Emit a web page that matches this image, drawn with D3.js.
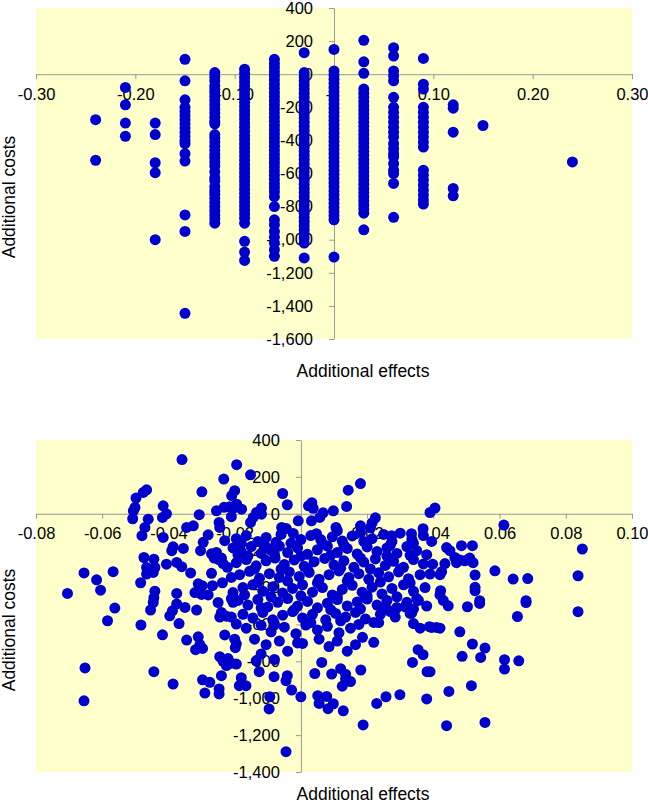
<!DOCTYPE html>
<html>
<head>
<meta charset="utf-8">
<script src="https://cdn.jsdelivr.net/npm/d3@7"></script>
<style>
    body { margin: 0; background: #ffffff; }
    svg { display: block; font-family: "Liberation Sans", Arial, sans-serif; }
</style>
</head>
<body>
<svg id="chart" width="648" height="805"></svg>
<script>
// ---- data: top panel (discrete effects, one column of costs per effect) ----
const topEffects = [-0.24, -0.21, -0.18, -0.15, -0.12, -0.09, -0.06, -0.03, 0, 0.03, 0.06, 0.09, 0.12, 0.15, 0.24];
const topCosts = [
    [-275, -520],
    [-80, -185, -295, -375],
    [-295, -365, -535, -595, -1000],
    [90, -40, -155, -200, -225, -250, -275, -300, -325, -350, -375, -400, -420, -480, -525, -850, -950, -1445],
    [10, -15, -40, -70, -90, -110, -135, -160, -185, -210, -235, -260, -285, -300, -365, -385, -410, -435, -460, -485, -505,
     -530, -555, -590, -625, -645, -680, -705, -725, -750, -775, -800, -825, -850, -875, -900],
    [30, 5, -20, -45, -70, -95, -120, -145, -170, -195, -220, -245, -270, -295, -320, -345, -370, -395, -420, -445, -470,
     -495, -520, -545, -570, -595, -620, -645, -670, -695, -720, -745, -770, -795, -820, -845, -870, -900, -1010, -1075, -1125],
    [90, 65, 40, 15, -10, -35, -60, -85, -110, -135, -160, -185, -210, -235, -260, -285, -310, -335, -360, -385, -410, -435,
     -460, -485, -510, -535, -560, -585, -610, -635, -660, -685, -710, -740, -800, -880, -910, -950, -985, -1020, -1060, -1100],
    [130, 10, -15, -40, -65, -90, -115, -140, -165, -190, -215, -240, -265, -290, -315, -340, -365, -390, -415, -440, -465,
     -490, -515, -540, -565, -590, -615, -640, -665, -690, -715, -740, -765, -790, -815, -840, -865, -890, -915, -940, -965,
     -990, -1020, -1110],
    [150, 20, -5, -30, -55, -80, -105, -130, -155, -180, -205, -230, -255, -280, -305, -330, -355, -380, -405, -430, -455,
     -480, -505, -530, -555, -580, -605, -630, -655, -680, -705, -730, -755, -780, -805, -830, -855, -880, -1105],
    [205, 75, 5, -90, -115, -140, -165, -190, -215, -240, -265, -290, -315, -340, -365, -390, -415, -440, -465, -490, -515,
     -540, -565, -590, -615, -640, -665, -690, -715, -740, -765, -790, -815, -840, -940],
    [160, 110, 20, -10, -40, -140, -200, -230, -260, -290, -320, -350, -380, -420, -450, -480, -500, -540, -580, -600, -660, -865],
    [95, -60, -90, -200, -230, -260, -290, -320, -350, -380, -410, -440, -580, -610, -640, -670, -700, -730, -760, -785],
    [-185, -205, -350, -690, -735],
    [-310],
    [-530]
];

// ---- data: bottom panel, [effect, cost] pairs ----
const bottomPoints = [
    [-0.0359, 294], [-0.0194, 266], [-0.0233, 188], [-0.0299, 119], [-0.0466, 130], [-0.0476, 116], [-0.0498, 85],
    [-0.0501, 34], [-0.0506, 16], [-0.0508, -27], [-0.0416, 43], [-0.0418, -20], [-0.0406, 0], [-0.0461, -29],
    [-0.0471, -74], [-0.048, -119], [-0.0307, -5], [-0.0345, -74], [-0.0325, -65], [-0.0416, -128], [-0.0255, 16],
    [-0.0232, 35], [-0.0215, 38], [-0.0200, 33], [-0.021, -16], [-0.0247, -47], [-0.0245, -74], [-0.028, -114],
    [-0.0295, -155], [-0.0303, -200], [-0.023, -146], [-0.0386, -179], [-0.039, -200], [-0.0355, -188], [-0.0474, -237],
    [-0.0444, -246], [-0.0441, -291], [-0.0466, -291], [-0.0466, -327], [-0.0446, -318], [-0.0484, -374], [-0.0406, -273],
    [-0.0375, -264], [-0.036, -287], [-0.0333, -321], [-0.027, -323], [-0.027, -217], [-0.0262, -240], [-0.0255, -210],
    [-0.0248, -248], [-0.024, -240], [-0.0235, -270], [-0.0222, -290], [-0.021, -345], [-0.0237, -374], [-0.0267, -390],
    [-0.031, -380], [-0.0298, -390], [-0.032, -427], [-0.030, -437], [-0.028, -440], [-0.0655, -321], [-0.0617, -358],
    [-0.0605, -414], [-0.0567, -314], [-0.0705, -432], [-0.0441, -420], [-0.0444, -455], [-0.0446, -481], [-0.0375, -432],
    [-0.0205, -427], [-0.019, -222],
    [-0.0562, -511], [-0.0584, -580], [-0.0483, -603], [-0.0454, -522], [-0.0375, -489], [-0.0396, -553], [-0.0388, -526],
    [-0.0368, -595], [-0.035, -508], [-0.0315, -522], [-0.025, -481], [-0.024, -535], [-0.0245, -560], [-0.0225, -555],
    [-0.021, -560], [-0.0195, -598], [-0.021, -460], [-0.0205, -480], [-0.0418, -656], [-0.0345, -685], [-0.031, -667],
    [-0.0305, -710], [-0.0318, -737], [-0.0297, -730], [-0.023, -657], [-0.020, -680], [-0.0195, -705], [-0.0198, -726],
    [-0.0245, -775], [-0.0235, -800], [-0.0225, -823], [-0.021, -810], [-0.022, -785], [-0.0195, -815], [-0.024, -878],
    [-0.0297, -900], [-0.0275, -914], [-0.029, -972], [-0.0247, -950], [-0.0247, -977], [-0.0186, -932], [-0.0652, -836],
    [-0.0655, -1014], [-0.0444, -856], [-0.0386, -923],
    [-0.0152, 211], [-0.020, 125], [-0.0209, 98], [-0.0194, 52], [-0.0179, 25], [-0.0055, 110], [-0.0041, 49],
    [-0.0119, 31], [-0.0134, 7], [-0.0144, -20], [-0.0152, -47], [-0.0119, -2], [0.0023, 43], [0.0033, 60], [0.0037, 30],
    [0.0067, 5], [0.0032, -38], [0.0057, -20], [-0.0008, -38], [0.0098, 16], [0.0138, 40], [0.0143, 128], [0.018, 164],
    [0.0225, -22], [0.0215, -50], [0.021, -76], [0.0106, -74], [0.011, -92], [0.018, -65], [0.018, -101], [-0.0058, -74],
    [-0.0044, -80], [-0.0023, -107], [0.0047, -108], [0.0274, -119], [0.0334, -108], [0.0369, -81],
    [-0.0195, -135], [-0.0165, -118], [-0.013, -150], [-0.0105, -128], [-0.0075, -155], [-0.006, -112], [0.0, -140],
    [0.003, -118], [0.0065, -160], [0.0095, -125], [0.0125, -148], [0.0155, -120], [0.0215, -135], [0.025, -112],
    [0.0275, -150], [0.030, -105], [0.0335, -138], [0.037, -118], [0.0395, -150],
    [-0.0205, -185], [-0.018, -205], [-0.015, -178], [-0.012, -215], [-0.0095, -190], [-0.0065, -175], [-0.004, -210],
    [-0.001, -185], [0.002, -220], [0.005, -195], [0.008, -175], [0.011, -210], [0.014, -188], [0.017, -218], [0.020, -180],
    [0.023, -205], [0.026, -185], [0.029, -215], [0.032, -178], [0.035, -200], [0.038, -222],
    [-0.0195, -265], [-0.0165, -248], [-0.0135, -282], [-0.0105, -255], [-0.0078, -240], [-0.005, -275], [-0.002, -250],
    [0.001, -285], [0.004, -260], [0.0072, -242], [0.010, -278], [0.013, -255], [0.016, -290], [0.019, -262], [0.0225, -245],
    [0.0255, -280], [0.028, -258], [0.031, -290], [0.034, -248], [0.037, -272],
    [-0.0185, -330], [-0.0155, -312], [-0.0125, -350], [-0.0095, -325], [-0.0065, -345], [-0.0035, -315], [-0.0005, -340],
    [0.0025, -318], [0.0055, -355], [0.0085, -330], [0.0115, -310], [0.0145, -345], [0.0175, -325], [0.0205, -355],
    [0.0235, -320], [0.0265, -342], [0.0295, -315], [0.0325, -352], [0.036, -330],
    [-0.0175, -400], [-0.0145, -385], [-0.0115, -420], [-0.0085, -395], [-0.0055, -430], [-0.0025, -405], [0.0005, -385],
    [0.0035, -425], [0.0065, -400], [0.0095, -440], [0.0125, -410], [0.0155, -388], [0.0185, -425], [0.0215, -398],
    [0.0245, -435], [0.0275, -405], [0.031, -385], [0.034, -420], [0.0375, -400],
    [-0.019, -470], [-0.016, -495], [-0.013, -465], [-0.010, -505], [-0.007, -480], [-0.004, -460], [-0.001, -500],
    [0.002, -475], [0.005, -510], [0.008, -485], [0.011, -465], [0.014, -500], [0.017, -478], [0.020, -462], [0.023, -495],
    [0.026, -470], [0.029, -508], [0.032, -480], [0.035, -460], [0.038, -500],
    [-0.0175, -545], [-0.0145, -565], [-0.0115, -535], [-0.0085, -575], [-0.0055, -550], [-0.0025, -530], [0.0005, -565],
    [0.0035, -545], [0.0075, -575], [0.0105, -540], [0.0135, -560], [0.0165, -535], [0.0195, -570], [0.024, -545],
    [0.0285, -560], [0.033, -540],
    [-0.0165, -620], [-0.012, -605], [-0.009, -640], [-0.005, -615], [-0.0015, -650], [0.0015, -603], [0.005, -630],
    [0.008, -610], [0.0115, -645], [0.015, -620], [0.0175, -600],
    [-0.014, -680], [-0.0105, -710], [-0.0065, -690], [-0.004, -745], [-0.001, -700], [0.0005, -703], [0.0055, -680],
    [0.0085, -720], [0.011, -690], [0.014, -745], [0.0165, -710], [-0.012, -760], [-0.008, -790], [-0.0135, -797],
    [-0.018, -160], [-0.011, -170], [-0.003, -160], [0.006, -140], [0.013, -170], [0.019, -150], [0.027, -170], [0.034, -160],
    [-0.016, -230], [-0.008, -220], [0.0, -230], [0.009, -225], [0.018, -240], [0.026, -230], [0.033, -225],
    [-0.014, -300], [-0.006, -300], [0.002, -300], [0.012, -295], [0.021, -300], [0.030, -300],
    [-0.013, -370], [-0.004, -365], [0.005, -375], [0.014, -365], [0.024, -370], [0.033, -375],
    [-0.017, -440], [-0.009, -450], [0.0, -445], [0.011, -450], [0.020, -445], [0.029, -450],
    [-0.012, -510], [-0.002, -520], [0.009, -520], [0.018, -515], [0.027, -530],
    [-0.008, -600], [0.003, -590], [0.012, -580],
    [-0.0045, -1290], [-0.0096, -1058], [0.0188, -1145], [0.0128, -1068], [0.0082, -1057], [0.0098, -1030], [0.0051, -986],
    [0.0055, -1028], [0.0078, -990], [0.0, -992], [-0.0028, -956], [-0.0041, -878], [-0.0045, -905], [-0.0081, -883],
    [-0.0126, -856], [-0.018, -889], [-0.0166, -932], [-0.0094, -992], [0.0042, -866], [0.0093, -869], [0.0063, -806],
    [0.012, -840], [0.0135, -870], [0.0125, -935], [0.015, -910], [0.0135, -895], [0.0181, -847], [0.0229, -1028],
    [0.0257, -992], [0.0299, -981], [0.038, -1004], [0.0337, -806], [0.0354, -737], [0.0369, -764], [0.0381, -856],
    [0.034, -595], [0.036, -620], [0.0388, -612], [0.041, -616], [0.022, -697], [0.0186, -670], [0.022, -589],
    [0.0235, -590], [0.0195, -455], [0.0255, -500], [0.0285, -520], [0.0315, -505], [0.034, -515], [0.0355, -470],
    [0.0335, -537],
    [0.0837, -531], [0.068, -481], [0.0654, -557], [0.054, -486], [0.0503, -504], [0.0445, -499], [0.043, -470],
    [0.042, -440], [0.0422, -417], [0.0526, -417], [0.0395, -616], [0.042, -620], [0.048, -640], [0.0518, -706],
    [0.0556, -728], [0.0487, -773], [0.0543, -779], [0.0615, -791], [0.0615, -842], [0.0658, -797], [0.039, -856],
    [0.0515, -932], [0.0447, -963], [0.044, -1149], [0.0556, -1131],
    [0.0405, 31], [0.039, 7], [0.0613, -61], [0.085, -191], [0.0837, -336], [0.0485, -173], [0.0518, -173], [0.044, -183],
    [0.045, -200], [0.0465, -237], [0.048, -250], [0.0495, -255], [0.051, -240], [0.047, -265], [0.052, -265],
    [0.0398, -273], [0.0435, -270], [0.0425, -314], [0.042, -330], [0.039, -327], [0.0526, -332], [0.0526, -399],
    [0.0586, -309], [0.0641, -354], [0.0685, -351], [0.054, -471], [0.068, -471]
];

// axis ticks
const topXTicks = [-0.30, -0.20, -0.10, 0, 0.10, 0.20, 0.30];
const topYTicks = [400, 200, 0, -200, -400, -600, -800, -1000, -1200, -1400, -1600];
const bottomXTicks = [-0.08, -0.06, -0.04, -0.02, 0, 0.02, 0.04, 0.06, 0.08, 0.10];
const bottomYTicks = [400, 200, 0, -200, -400, -600, -800, -1000, -1200, -1400];
const xTitle = 'Additional effects';
const yTitle = 'Additional costs';

// constants
const plotLeft = 36, plotRight = 632;
const panels = [
    { top: 8, bottom: 339, xDomain: [-0.3, 0.3], yDomain: [-1600, 400], xTicks: topXTicks, yTicks: topYTicks, xTitleY: 377, yTitleY: 197 },
    { top: 440, bottom: 772, xDomain: [-0.08, 0.1], yDomain: [-1400, 400], xTicks: bottomXTicks, yTicks: bottomYTicks, xTitleY: 800, yTitleY: 630 }
];
const dotColor = '#0000cc';
const axisColor = '#999999';
const tickFont = '16.5px';
const titleFont = '17.5px';

const locale = d3.formatLocale({ decimal: '.', thousands: ',', grouping: [3], currency: ['', ''], minus: '-' });
const fmtY = locale.format(',');
const fmtX = locale.format('.2f');

const svg = d3.select('#chart');

const topData = [];
topEffects.forEach((e, i) => topCosts[i].forEach(c => topData.push([e, c])));

function drawPanel(p, data) {
    const xScale = d3.scaleLinear().domain(p.xDomain).range([plotLeft, plotRight]);
    const yScale = d3.scaleLinear().domain(p.yDomain).range([p.bottom, p.top]);
    const g = svg.append('g');

    g.append('rect')
        .attr('x', plotLeft).attr('y', p.top)
        .attr('width', plotRight - plotLeft).attr('height', p.bottom - p.top)
        .attr('fill', '#ffffcc');

    const xAxis = d3.axisBottom(xScale).tickValues(p.xTicks).tickSize(5).tickSizeOuter(0).tickPadding(9)
        .tickFormat(d => Math.abs(d) < 1e-9 ? '-' : fmtX(d));
    const xAxisG = g.append('g')
        .attr('transform', `translate(0,${yScale(0)})`)
        .call(xAxis);
    xAxisG.select('.domain').attr('stroke', axisColor);
    xAxisG.selectAll('line').attr('stroke', axisColor);
    xAxisG.selectAll('text').attr('fill', '#000').style('font-size', tickFont).style('font-family', 'inherit')
        .attr('dx', d => Math.abs(d) < 1e-9 ? -6 : 0);

    const yAxis = d3.axisLeft(yScale).tickValues(p.yTicks).tickSize(5).tickSizeOuter(0).tickPadding(16)
        .tickFormat(fmtY);
    const yAxisG = g.append('g')
        .attr('transform', `translate(${xScale(0)},0)`)
        .call(yAxis);
    yAxisG.select('.domain').attr('stroke', axisColor);
    yAxisG.selectAll('line').attr('stroke', axisColor);
    yAxisG.selectAll('text').attr('fill', '#000').style('font-size', tickFont).style('font-family', 'inherit');

    // dots go over the axis labels, as in the original
    g.append('g').selectAll('circle')
        .data(data)
        .join('circle')
        .attr('cx', d => xScale(d[0]))
        .attr('cy', d => yScale(d[1]))
        .attr('r', 5.5)
        .attr('fill', dotColor);

    g.append('text')
        .attr('x', 363).attr('y', p.xTitleY)
        .attr('text-anchor', 'middle')
        .style('font-size', titleFont)
        .text(xTitle);

    g.append('text')
        .attr('transform', `translate(15,${p.yTitleY}) rotate(-90)`)
        .attr('text-anchor', 'middle')
        .style('font-size', titleFont)
        .text(yTitle);
}

drawPanel(panels[0], topData);
drawPanel(panels[1], bottomPoints);
</script>
</body>
</html>
